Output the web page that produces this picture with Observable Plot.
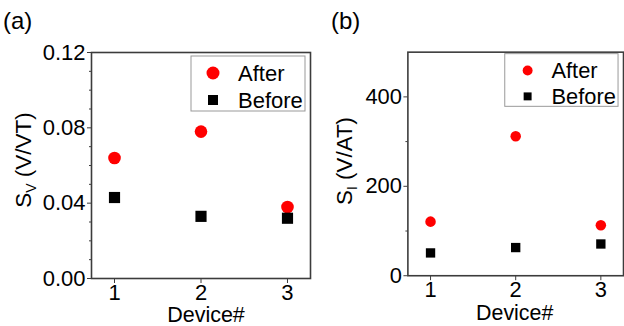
<!DOCTYPE html>
<html><head><meta charset="utf-8">
<script src="https://cdn.jsdelivr.net/npm/d3@7"></script>
<script src="https://cdn.jsdelivr.net/npm/@observablehq/plot@0.6"></script>
<style>
html,body{margin:0;padding:0;background:#fff;overflow:hidden;}
#wrap{position:relative;width:624px;height:326px;overflow:hidden;font-family:'Liberation Sans',Arial,sans-serif;}
.panel{position:absolute;top:0;}
.tag{position:absolute;font-size:24px;line-height:1;color:#000;}
</style>
</head><body>
<div id="wrap">
  <div class="tag" style="left:3px;top:9px;">(a)</div>
  <div class="tag" style="left:331px;top:9px;">(b)</div>
  <div class="panel" id="pa" style="left:0px;"></div>
  <div class="panel" id="pb" style="left:312px;"></div>
</div>
<script>
// ---- data ----
const devices = [1, 2, 3];
const svAfter = [0.064, 0.078, 0.038];
const svBefore = [0.043, 0.033, 0.032];
const siAfter = [121, 312, 113];
const siBefore = [51, 63, 71];
const seriesNames = ["After", "Before"];
const svTicks = [0, 0.04, 0.08, 0.12];
const svMinor = [0.01, 0.02, 0.03, 0.05, 0.06, 0.07, 0.09, 0.10, 0.11];
const siTicks = [0, 200, 400];
const siMinor = [100, 300];
const xTicks = [1, 2, 3];

const FONT = "'Liberation Sans', Arial, sans-serif";
const RED = "#ff0000";
const FS = 22;

function rows(after, before) {
  const out = [];
  devices.forEach((d, i) => {
    out.push({device: d, value: after[i], series: seriesNames[0]});
    out.push({device: d, value: before[i], series: seriesNames[1]});
  });
  return out;
}

function makePlot(cfg) {
  const data = rows(cfg.after, cfg.before);
  return Plot.plot({
    width: cfg.width, height: 326,
    marginLeft: cfg.ml, marginRight: cfg.mr, marginTop: 52, marginBottom: cfg.mb,
    style: {fontFamily: FONT, background: "transparent", overflow: "visible"},
    x: {domain: [0.734, 3.266]},
    y: {domain: cfg.ydomain},
    marks: [
      Plot.frame({stroke: "#3c3c3c", strokeWidth: 1.6}),
      Plot.axisY({ticks: cfg.minor, tickSize: 2, text: null, stroke: "#3c3c3c", label: null}),
      Plot.axisY({ticks: cfg.yticks, tickSize: 4, tickPadding: 2, fontSize: FS, tickFormat: cfg.fmt, stroke: "#3c3c3c", label: null}),
      Plot.axisX({ticks: xTicks, tickSize: 5, tickPadding: 1, fontSize: FS, tickFormat: d => String(d), stroke: "#3c3c3c", label: null}),
      Plot.dot(data, {x: "device", y: "value", r: cfg.r,
        symbol: d => d.series === "After" ? "circle" : "square",
        fill: d => d.series === "After" ? RED : "#000", stroke: "none"})
    ]
  });
}

function decorate(svg, cfg) {
  const s = d3.select(svg);
  // y title with subscript
  const t = s.append("text")
    .attr("transform", `translate(${cfg.ytx},${cfg.yty}) rotate(-90)`)
    .attr("text-anchor", "middle").attr("font-size", FS + 0.5).attr("fill", "#000")
    .attr("font-family", FONT);
  t.append("tspan").text("S");
  t.append("tspan").attr("font-size", 14).attr("dy", 5).text(cfg.sub);
  t.append("tspan").attr("dy", -5).text(" " + cfg.unit);
  // x title
  s.append("text").attr("x", cfg.xtx).attr("y", 322).attr("text-anchor", "middle")
    .attr("font-size", 21.5).attr("font-family", FONT).attr("fill", "#000").text("Device#");
  // legend
  const L = cfg.leg;
  const g = s.append("g").attr("text-anchor", "start");
  g.append("rect").attr("x", L.x).attr("y", L.y).attr("width", L.w).attr("height", L.h)
    .attr("fill", "#fff").attr("stroke", "#999").attr("stroke-width", 1);
  g.append("circle").attr("cx", L.mx).attr("cy", L.y1).attr("r", L.cr).attr("fill", RED);
  g.append("rect").attr("x", L.mx - L.sq / 2).attr("y", L.y2 - L.sq / 2)
    .attr("width", L.sq).attr("height", L.sq).attr("fill", "#000");
  g.append("text").attr("x", L.tx).attr("y", L.y1 + 8).attr("font-size", FS)
    .attr("text-anchor", "start")
    .attr("font-family", FONT).attr("fill", "#000").text(seriesNames[0]);
  g.append("text").attr("x", L.tx).attr("y", L.y2 + 8).attr("font-size", FS)
    .attr("text-anchor", "start")
    .attr("font-family", FONT).attr("fill", "#000").text(seriesNames[1]);
}

const pa = makePlot({width: 312, ml: 91, mr: 2, mb: 48, ydomain: [0, 0.12],
  yticks: svTicks, minor: svMinor, fmt: d3.format(".2f"), after: svAfter, before: svBefore, r: 6.3});
decorate(pa, {ytx: 31, yty: 160, sub: "V", unit: "(V/VT)", xtx: 206,
  leg: {x: 191, y: 56, w: 114, h: 55, mx: 213, y1: 73, y2: 100, cr: 6.5, sq: 10, tx: 238}});
document.getElementById("pa").appendChild(pa);

const pb = makePlot({width: 314, ml: 96, mr: 1, mb: 49, ydomain: [0, 500],
  yticks: siTicks, minor: siMinor, fmt: d3.format("d"), after: siAfter, before: siBefore, r: 5.3});
decorate(pb, {ytx: 40, yty: 162, sub: "I", unit: "(V/AT)", xtx: 204,
  leg: {x: 194, y: 54, w: 114, h: 53, mx: 217, y1: 71, y2: 97, cr: 5, sq: 8, tx: 241}});
document.getElementById("pb").appendChild(pb);
</script>
</body></html>
